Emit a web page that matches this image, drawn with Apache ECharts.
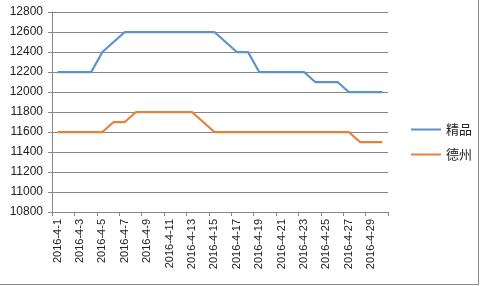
<!DOCTYPE html>
<html>
<head>
<meta charset="utf-8">
<script src="https://cdn.jsdelivr.net/npm/echarts@6/dist/echarts.min.js"></script>
<style>
html,body{margin:0;padding:0;background:#fff;}
#frame{position:absolute;left:0;top:0;width:478px;height:284px;border-right:1px solid #8c8c8c;border-bottom:1px solid #8c8c8c;}
#chart{position:absolute;left:0;top:0;width:480px;height:286px;}
</style>
</head>
<body>
<div id="frame"></div>
<div id="chart"></div>
<script>
const categories = [];
for (let d = 1; d <= 30; d++) categories.push('2016-4-' + d);
const seriesNames = ['精品', '德州'];
const jingpin = [12200,12200,12200,12200,12400,12500,12600,12600,12600,12600,12600,12600,12600,12600,12600,12500,12400,12400,12200,12200,12200,12200,12200,12100,12100,12100,12000,12000,12000,12000];
const dezhou = [11600,11600,11600,11600,11600,11700,11700,11800,11800,11800,11800,11800,11800,11700,11600,11600,11600,11600,11600,11600,11600,11600,11600,11600,11600,11600,11600,11500,11500,11500];
const yMin = 10800, yMax = 12800, yStep = 200;

const chart = echarts.init(document.getElementById('chart'), null, {renderer: 'canvas'});
const axisFont = {fontFamily: 'Liberation Sans, Arial, sans-serif', fontSize: 11, color: '#222'};
chart.setOption({
  animation: false,
  backgroundColor: 'transparent',
  grid: {left: 52, right: 92, top: 12, bottom: 74, containLabel: false},
  legend: {
    orient: 'vertical', left: 406, top: 118, itemWidth: 30, itemHeight: 10, itemGap: 12,
    icon: 'path://M0,4 L30,4 L30,6 L0,6 Z',
    textStyle: {fontFamily: 'Noto Sans CJK SC', fontSize: 13, color: '#222'},
    data: seriesNames
  },
  xAxis: {
    type: 'category', data: categories, boundaryGap: true,
    axisLine: {lineStyle: {color: '#868686', width: 1}},
    axisTick: {show: true, interval: 1, length: 4, lineStyle: {color: '#868686'}},
    axisLabel: Object.assign({interval: 1, rotate: 90, margin: 7}, axisFont),
    splitLine: {show: false}
  },
  yAxis: {
    type: 'value', min: yMin, max: yMax, interval: yStep,
    axisLine: {show: true, lineStyle: {color: '#868686', width: 1}},
    axisTick: {show: true, length: 4, lineStyle: {color: '#868686'}},
    axisLabel: Object.assign({}, axisFont, {margin: 9, fontSize: 12, formatter: function (v) { return String(v); }}),
    splitLine: {show: true, lineStyle: {color: '#868686', width: 1}}
  },
  series: [
    {name: seriesNames[0], type: 'line', data: jingpin, symbol: 'none', lineStyle: {color: '#5B93CC', width: 2.25}, itemStyle: {color: '#5B93CC'}},
    {name: seriesNames[1], type: 'line', data: dezhou, symbol: 'none', lineStyle: {color: '#E8803A', width: 2.25}, itemStyle: {color: '#E8803A'}}
  ]
});
</script>
</body>
</html>
